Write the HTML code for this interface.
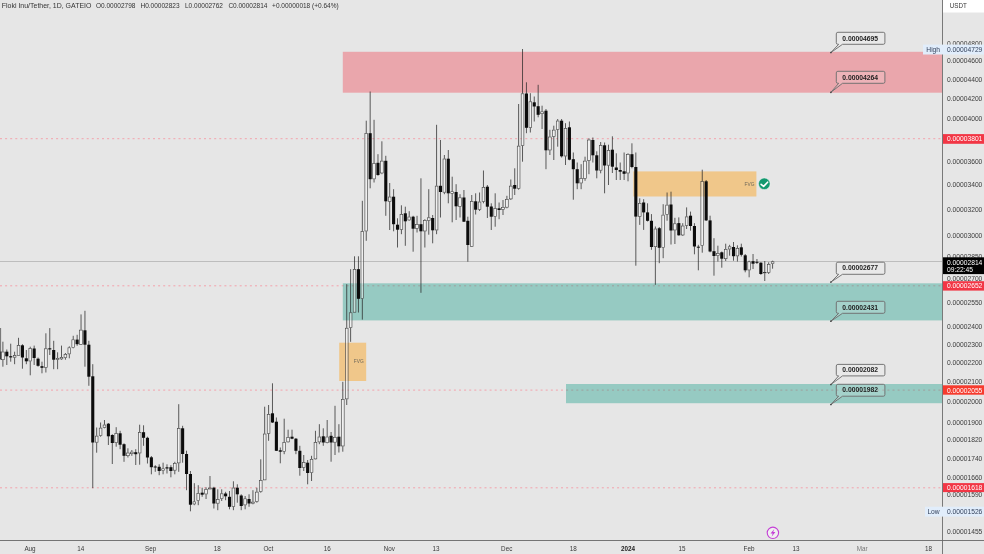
<!DOCTYPE html>
<html><head><meta charset="utf-8"><title>Floki Inu/Tether chart</title>
<style>html,body{margin:0;padding:0;background:#e6e6e6;overflow:hidden}svg{display:block;filter:blur(0.3px)}</style>
</head><body>
<svg width="984" height="554" viewBox="0 0 984 554" font-family='"Liberation Sans", sans-serif'>
<rect width="984" height="554" fill="#e6e6e6"/>
<line x1="0" x2="942" y1="138.7" y2="138.7" stroke="#f3a2ac" stroke-width="1" stroke-dasharray="2 3.1"/>
<line x1="0" x2="942" y1="285.8" y2="285.8" stroke="#f3a2ac" stroke-width="1" stroke-dasharray="2 3.1"/>
<line x1="0" x2="942" y1="390.1" y2="390.1" stroke="#f3a2ac" stroke-width="1" stroke-dasharray="2 3.1"/>
<line x1="0" x2="942" y1="487.8" y2="487.8" stroke="#f3a2ac" stroke-width="1" stroke-dasharray="2 3.1"/>
<line x1="0" x2="942" y1="261.5" y2="261.5" stroke="#b2b2b2" stroke-width="0.8"/>
<rect x="342.8" y="51.8" width="599.2" height="40.9" fill="rgba(242,54,69,0.36)"/>
<rect x="342.8" y="283.3" width="599.2" height="37.1" fill="rgba(8,153,129,0.36)"/>
<rect x="566" y="384" width="376.0" height="19.2" fill="rgba(8,153,129,0.36)"/>
<rect x="339.2" y="342.7" width="27" height="38.3" fill="rgba(255,152,0,0.40)"/>
<rect x="633.3" y="171.4" width="123.1" height="25.1" fill="rgba(255,152,0,0.40)"/>
<g id="candles">
<rect x="0" y="328" width="1.1" height="23.5" fill="#7a7a7a"/>
<rect x="0" y="351.3" width="1.2" height="8.2" fill="#3c3c3c"/>
<line x1="2.90" x2="2.90" y1="341.7" y2="351.7" stroke="#2a2a2a" stroke-width="0.75"/>
<line x1="2.90" x2="2.90" y1="360.0" y2="366.7" stroke="#2a2a2a" stroke-width="0.75"/>
<rect x="1.55" y="352.0" width="2.7" height="7.7" fill="rgba(255,255,255,0.42)" stroke="#3a3a3a" stroke-width="0.6"/>
<line x1="6.81" x2="6.81" y1="349.5" y2="365.0" stroke="#2a2a2a" stroke-width="0.75"/>
<rect x="5.26" y="351.7" width="3.1" height="4.6" fill="#0c0c0c"/>
<line x1="10.71" x2="10.71" y1="343.7" y2="361.7" stroke="#2a2a2a" stroke-width="0.75"/>
<rect x="9.16" y="356.2" width="3.1" height="1.2" fill="#0c0c0c"/>
<line x1="14.62" x2="14.62" y1="351.7" y2="355.3" stroke="#2a2a2a" stroke-width="0.75"/>
<line x1="14.62" x2="14.62" y1="357.5" y2="364.2" stroke="#2a2a2a" stroke-width="0.75"/>
<rect x="13.27" y="355.6" width="2.7" height="1.6" fill="rgba(255,255,255,0.42)" stroke="#3a3a3a" stroke-width="0.6"/>
<line x1="18.53" x2="18.53" y1="337.8" y2="345.3" stroke="#2a2a2a" stroke-width="0.75"/>
<rect x="17.18" y="345.6" width="2.7" height="9.9" fill="rgba(255,255,255,0.42)" stroke="#3a3a3a" stroke-width="0.6"/>
<line x1="22.43" x2="22.43" y1="344.2" y2="368.7" stroke="#2a2a2a" stroke-width="0.75"/>
<rect x="20.88" y="345.3" width="3.1" height="12.2" fill="#0c0c0c"/>
<line x1="26.34" x2="26.34" y1="350.0" y2="364.2" stroke="#2a2a2a" stroke-width="0.75"/>
<rect x="24.79" y="358.3" width="3.1" height="3.0" fill="#0c0c0c"/>
<line x1="30.25" x2="30.25" y1="346.7" y2="348.3" stroke="#2a2a2a" stroke-width="0.75"/>
<line x1="30.25" x2="30.25" y1="361.3" y2="375.3" stroke="#2a2a2a" stroke-width="0.75"/>
<rect x="28.90" y="348.6" width="2.7" height="12.4" fill="rgba(255,255,255,0.42)" stroke="#3a3a3a" stroke-width="0.6"/>
<line x1="34.16" x2="34.16" y1="345.6" y2="365.0" stroke="#2a2a2a" stroke-width="0.75"/>
<rect x="32.61" y="348.5" width="3.1" height="9.5" fill="#0c0c0c"/>
<line x1="38.06" x2="38.06" y1="357.5" y2="366.7" stroke="#2a2a2a" stroke-width="0.75"/>
<rect x="36.51" y="358.7" width="3.1" height="7.1" fill="#0c0c0c"/>
<line x1="41.97" x2="41.97" y1="361.7" y2="373.3" stroke="#2a2a2a" stroke-width="0.75"/>
<rect x="40.42" y="366.2" width="3.1" height="1.6" fill="#0c0c0c"/>
<line x1="45.88" x2="45.88" y1="333.3" y2="348.5" stroke="#2a2a2a" stroke-width="0.75"/>
<line x1="45.88" x2="45.88" y1="367.8" y2="372.5" stroke="#2a2a2a" stroke-width="0.75"/>
<rect x="44.53" y="348.8" width="2.7" height="18.7" fill="rgba(255,255,255,0.42)" stroke="#3a3a3a" stroke-width="0.6"/>
<line x1="49.78" x2="49.78" y1="328.1" y2="355.0" stroke="#2a2a2a" stroke-width="0.75"/>
<rect x="48.23" y="348.3" width="3.1" height="1.1" fill="#0c0c0c"/>
<line x1="53.69" x2="53.69" y1="340.8" y2="369.2" stroke="#2a2a2a" stroke-width="0.75"/>
<rect x="52.14" y="350.0" width="3.1" height="9.7" fill="#0c0c0c"/>
<line x1="57.60" x2="57.60" y1="352.3" y2="358.0" stroke="#2a2a2a" stroke-width="0.75"/>
<line x1="57.60" x2="57.60" y1="359.7" y2="369.2" stroke="#2a2a2a" stroke-width="0.75"/>
<rect x="56.25" y="358.3" width="2.7" height="1.1" fill="rgba(255,255,255,0.42)" stroke="#3a3a3a" stroke-width="0.6"/>
<line x1="61.51" x2="61.51" y1="345.6" y2="357.2" stroke="#2a2a2a" stroke-width="0.75"/>
<line x1="61.51" x2="61.51" y1="359.2" y2="359.9" stroke="#2a2a2a" stroke-width="0.75"/>
<rect x="60.16" y="357.5" width="2.7" height="1.4" fill="rgba(255,255,255,0.42)" stroke="#3a3a3a" stroke-width="0.6"/>
<line x1="65.41" x2="65.41" y1="353.0" y2="354.0" stroke="#2a2a2a" stroke-width="0.75"/>
<line x1="65.41" x2="65.41" y1="358.0" y2="359.7" stroke="#2a2a2a" stroke-width="0.75"/>
<rect x="64.06" y="354.3" width="2.7" height="3.4" fill="rgba(255,255,255,0.42)" stroke="#3a3a3a" stroke-width="0.6"/>
<line x1="69.32" x2="69.32" y1="346.3" y2="347.5" stroke="#2a2a2a" stroke-width="0.75"/>
<line x1="69.32" x2="69.32" y1="354.2" y2="358.3" stroke="#2a2a2a" stroke-width="0.75"/>
<rect x="67.97" y="347.8" width="2.7" height="6.1" fill="rgba(255,255,255,0.42)" stroke="#3a3a3a" stroke-width="0.6"/>
<line x1="73.23" x2="73.23" y1="335.8" y2="339.5" stroke="#2a2a2a" stroke-width="0.75"/>
<line x1="73.23" x2="73.23" y1="348.0" y2="348.3" stroke="#2a2a2a" stroke-width="0.75"/>
<rect x="71.88" y="339.8" width="2.7" height="7.9" fill="rgba(255,255,255,0.42)" stroke="#3a3a3a" stroke-width="0.6"/>
<line x1="77.13" x2="77.13" y1="334.8" y2="345.8" stroke="#2a2a2a" stroke-width="0.75"/>
<rect x="75.58" y="339.6" width="3.1" height="4.6" fill="#0c0c0c"/>
<line x1="81.04" x2="81.04" y1="314.4" y2="329.8" stroke="#2a2a2a" stroke-width="0.75"/>
<line x1="81.04" x2="81.04" y1="344.7" y2="345.0" stroke="#2a2a2a" stroke-width="0.75"/>
<rect x="79.69" y="330.1" width="2.7" height="14.3" fill="rgba(255,255,255,0.42)" stroke="#3a3a3a" stroke-width="0.6"/>
<line x1="84.95" x2="84.95" y1="310.8" y2="366.7" stroke="#2a2a2a" stroke-width="0.75"/>
<rect x="83.40" y="330.3" width="3.1" height="14.4" fill="#0c0c0c"/>
<line x1="88.85" x2="88.85" y1="340.8" y2="385.8" stroke="#2a2a2a" stroke-width="0.75"/>
<rect x="87.30" y="344.7" width="3.1" height="32.0" fill="#0c0c0c"/>
<line x1="92.76" x2="92.76" y1="364.2" y2="488.2" stroke="#2a2a2a" stroke-width="0.75"/>
<rect x="91.21" y="376.3" width="3.1" height="66.2" fill="#0c0c0c"/>
<line x1="96.67" x2="96.67" y1="427.5" y2="435.8" stroke="#2a2a2a" stroke-width="0.75"/>
<line x1="96.67" x2="96.67" y1="442.5" y2="452.7" stroke="#2a2a2a" stroke-width="0.75"/>
<rect x="95.32" y="436.1" width="2.7" height="6.1" fill="rgba(255,255,255,0.42)" stroke="#3a3a3a" stroke-width="0.6"/>
<line x1="100.58" x2="100.58" y1="422.5" y2="427.8" stroke="#2a2a2a" stroke-width="0.75"/>
<line x1="100.58" x2="100.58" y1="435.8" y2="436.7" stroke="#2a2a2a" stroke-width="0.75"/>
<rect x="99.23" y="428.1" width="2.7" height="7.4" fill="rgba(255,255,255,0.42)" stroke="#3a3a3a" stroke-width="0.6"/>
<line x1="104.48" x2="104.48" y1="420.0" y2="424.7" stroke="#2a2a2a" stroke-width="0.75"/>
<line x1="104.48" x2="104.48" y1="427.8" y2="428.3" stroke="#2a2a2a" stroke-width="0.75"/>
<rect x="103.13" y="425.0" width="2.7" height="2.5" fill="rgba(255,255,255,0.42)" stroke="#3a3a3a" stroke-width="0.6"/>
<line x1="108.39" x2="108.39" y1="423.0" y2="445.0" stroke="#2a2a2a" stroke-width="0.75"/>
<rect x="106.84" y="423.7" width="3.1" height="12.6" fill="#0c0c0c"/>
<line x1="112.30" x2="112.30" y1="434.2" y2="464.0" stroke="#2a2a2a" stroke-width="0.75"/>
<rect x="110.75" y="435.0" width="3.1" height="8.0" fill="#0c0c0c"/>
<line x1="116.20" x2="116.20" y1="427.2" y2="433.3" stroke="#2a2a2a" stroke-width="0.75"/>
<line x1="116.20" x2="116.20" y1="443.0" y2="446.7" stroke="#2a2a2a" stroke-width="0.75"/>
<rect x="114.85" y="433.6" width="2.7" height="9.1" fill="rgba(255,255,255,0.42)" stroke="#3a3a3a" stroke-width="0.6"/>
<line x1="120.11" x2="120.11" y1="430.8" y2="449.2" stroke="#2a2a2a" stroke-width="0.75"/>
<rect x="118.56" y="433.3" width="3.1" height="11.4" fill="#0c0c0c"/>
<line x1="124.02" x2="124.02" y1="443.3" y2="461.8" stroke="#2a2a2a" stroke-width="0.75"/>
<rect x="122.47" y="444.2" width="3.1" height="11.6" fill="#0c0c0c"/>
<line x1="127.92" x2="127.92" y1="448.3" y2="452.7" stroke="#2a2a2a" stroke-width="0.75"/>
<line x1="127.92" x2="127.92" y1="456.0" y2="457.5" stroke="#2a2a2a" stroke-width="0.75"/>
<rect x="126.57" y="453.0" width="2.7" height="2.7" fill="rgba(255,255,255,0.42)" stroke="#3a3a3a" stroke-width="0.6"/>
<line x1="131.83" x2="131.83" y1="450.0" y2="451.8" stroke="#2a2a2a" stroke-width="0.75"/>
<line x1="131.83" x2="131.83" y1="454.0" y2="455.8" stroke="#2a2a2a" stroke-width="0.75"/>
<rect x="130.48" y="452.1" width="2.7" height="1.6" fill="rgba(255,255,255,0.42)" stroke="#3a3a3a" stroke-width="0.6"/>
<line x1="135.74" x2="135.74" y1="449.2" y2="465.0" stroke="#2a2a2a" stroke-width="0.75"/>
<rect x="134.19" y="452.2" width="3.1" height="2.0" fill="#0c0c0c"/>
<line x1="139.65" x2="139.65" y1="424.7" y2="432.2" stroke="#2a2a2a" stroke-width="0.75"/>
<line x1="139.65" x2="139.65" y1="453.3" y2="464.7" stroke="#2a2a2a" stroke-width="0.75"/>
<rect x="138.30" y="432.5" width="2.7" height="20.5" fill="rgba(255,255,255,0.42)" stroke="#3a3a3a" stroke-width="0.6"/>
<line x1="143.55" x2="143.55" y1="425.3" y2="445.8" stroke="#2a2a2a" stroke-width="0.75"/>
<rect x="142.00" y="432.2" width="3.1" height="5.6" fill="#0c0c0c"/>
<line x1="147.46" x2="147.46" y1="436.7" y2="463.5" stroke="#2a2a2a" stroke-width="0.75"/>
<rect x="145.91" y="437.8" width="3.1" height="19.7" fill="#0c0c0c"/>
<line x1="151.37" x2="151.37" y1="456.0" y2="474.3" stroke="#2a2a2a" stroke-width="0.75"/>
<rect x="149.82" y="457.3" width="3.1" height="9.9" fill="#0c0c0c"/>
<line x1="155.27" x2="155.27" y1="465.2" y2="471.8" stroke="#2a2a2a" stroke-width="0.75"/>
<rect x="153.72" y="466.5" width="3.1" height="1.0" fill="#0c0c0c"/>
<line x1="159.18" x2="159.18" y1="464.3" y2="475.2" stroke="#2a2a2a" stroke-width="0.75"/>
<rect x="157.63" y="466.8" width="3.1" height="4.2" fill="#0c0c0c"/>
<line x1="163.09" x2="163.09" y1="462.7" y2="468.5" stroke="#2a2a2a" stroke-width="0.75"/>
<line x1="163.09" x2="163.09" y1="471.0" y2="474.3" stroke="#2a2a2a" stroke-width="0.75"/>
<rect x="161.74" y="468.8" width="2.7" height="1.9" fill="rgba(255,255,255,0.42)" stroke="#3a3a3a" stroke-width="0.6"/>
<line x1="166.99" x2="166.99" y1="464.3" y2="473.5" stroke="#2a2a2a" stroke-width="0.75"/>
<rect x="165.44" y="467.3" width="3.1" height="1.2" fill="#0c0c0c"/>
<line x1="170.90" x2="170.90" y1="465.2" y2="477.3" stroke="#2a2a2a" stroke-width="0.75"/>
<rect x="169.35" y="467.2" width="3.1" height="3.8" fill="#0c0c0c"/>
<line x1="174.81" x2="174.81" y1="461.8" y2="463.2" stroke="#2a2a2a" stroke-width="0.75"/>
<line x1="174.81" x2="174.81" y1="470.5" y2="474.3" stroke="#2a2a2a" stroke-width="0.75"/>
<rect x="173.46" y="463.5" width="2.7" height="6.7" fill="rgba(255,255,255,0.42)" stroke="#3a3a3a" stroke-width="0.6"/>
<line x1="178.72" x2="178.72" y1="404.2" y2="428.3" stroke="#2a2a2a" stroke-width="0.75"/>
<line x1="178.72" x2="178.72" y1="463.2" y2="471.8" stroke="#2a2a2a" stroke-width="0.75"/>
<rect x="177.37" y="428.6" width="2.7" height="34.3" fill="rgba(255,255,255,0.42)" stroke="#3a3a3a" stroke-width="0.6"/>
<line x1="182.62" x2="182.62" y1="425.8" y2="462.7" stroke="#2a2a2a" stroke-width="0.75"/>
<rect x="181.07" y="428.3" width="3.1" height="25.7" fill="#0c0c0c"/>
<line x1="186.53" x2="186.53" y1="450.7" y2="490.2" stroke="#2a2a2a" stroke-width="0.75"/>
<rect x="184.98" y="454.0" width="3.1" height="20.0" fill="#0c0c0c"/>
<line x1="190.44" x2="190.44" y1="471.0" y2="511.3" stroke="#2a2a2a" stroke-width="0.75"/>
<rect x="188.89" y="474.0" width="3.1" height="30.7" fill="#0c0c0c"/>
<line x1="194.34" x2="194.34" y1="483.2" y2="501.5" stroke="#2a2a2a" stroke-width="0.75"/>
<line x1="194.34" x2="194.34" y1="504.3" y2="505.2" stroke="#2a2a2a" stroke-width="0.75"/>
<rect x="192.99" y="501.8" width="2.7" height="2.2" fill="rgba(255,255,255,0.42)" stroke="#3a3a3a" stroke-width="0.6"/>
<line x1="198.25" x2="198.25" y1="485.2" y2="493.0" stroke="#2a2a2a" stroke-width="0.75"/>
<line x1="198.25" x2="198.25" y1="501.0" y2="505.2" stroke="#2a2a2a" stroke-width="0.75"/>
<rect x="196.90" y="493.3" width="2.7" height="7.4" fill="rgba(255,255,255,0.42)" stroke="#3a3a3a" stroke-width="0.6"/>
<line x1="202.16" x2="202.16" y1="487.7" y2="496.8" stroke="#2a2a2a" stroke-width="0.75"/>
<rect x="200.61" y="492.7" width="3.1" height="2.0" fill="#0c0c0c"/>
<line x1="206.06" x2="206.06" y1="487.3" y2="489.0" stroke="#2a2a2a" stroke-width="0.75"/>
<line x1="206.06" x2="206.06" y1="494.3" y2="499.0" stroke="#2a2a2a" stroke-width="0.75"/>
<rect x="204.71" y="489.3" width="2.7" height="4.7" fill="rgba(255,255,255,0.42)" stroke="#3a3a3a" stroke-width="0.6"/>
<line x1="209.97" x2="209.97" y1="476.0" y2="487.7" stroke="#2a2a2a" stroke-width="0.75"/>
<rect x="208.62" y="488.0" width="2.7" height="1.0" fill="rgba(255,255,255,0.42)" stroke="#3a3a3a" stroke-width="0.6"/>
<line x1="213.88" x2="213.88" y1="486.8" y2="508.5" stroke="#2a2a2a" stroke-width="0.75"/>
<rect x="212.33" y="487.7" width="3.1" height="15.8" fill="#0c0c0c"/>
<line x1="217.78" x2="217.78" y1="489.3" y2="499.3" stroke="#2a2a2a" stroke-width="0.75"/>
<line x1="217.78" x2="217.78" y1="503.5" y2="510.2" stroke="#2a2a2a" stroke-width="0.75"/>
<rect x="216.44" y="499.6" width="2.7" height="3.6" fill="rgba(255,255,255,0.42)" stroke="#3a3a3a" stroke-width="0.6"/>
<line x1="221.69" x2="221.69" y1="489.3" y2="493.5" stroke="#2a2a2a" stroke-width="0.75"/>
<line x1="221.69" x2="221.69" y1="499.0" y2="501.0" stroke="#2a2a2a" stroke-width="0.75"/>
<rect x="220.34" y="493.8" width="2.7" height="4.9" fill="rgba(255,255,255,0.42)" stroke="#3a3a3a" stroke-width="0.6"/>
<line x1="225.60" x2="225.60" y1="491.8" y2="500.2" stroke="#2a2a2a" stroke-width="0.75"/>
<rect x="224.05" y="493.5" width="3.1" height="2.8" fill="#0c0c0c"/>
<line x1="229.51" x2="229.51" y1="491.0" y2="509.3" stroke="#2a2a2a" stroke-width="0.75"/>
<rect x="227.96" y="496.8" width="3.1" height="10.0" fill="#0c0c0c"/>
<line x1="233.41" x2="233.41" y1="481.3" y2="487.7" stroke="#2a2a2a" stroke-width="0.75"/>
<line x1="233.41" x2="233.41" y1="506.8" y2="510.2" stroke="#2a2a2a" stroke-width="0.75"/>
<rect x="232.06" y="488.0" width="2.7" height="18.5" fill="rgba(255,255,255,0.42)" stroke="#3a3a3a" stroke-width="0.6"/>
<line x1="237.32" x2="237.32" y1="484.3" y2="502.7" stroke="#2a2a2a" stroke-width="0.75"/>
<rect x="235.77" y="487.7" width="3.1" height="6.6" fill="#0c0c0c"/>
<line x1="241.23" x2="241.23" y1="494.3" y2="510.2" stroke="#2a2a2a" stroke-width="0.75"/>
<rect x="239.68" y="495.5" width="3.1" height="10.5" fill="#0c0c0c"/>
<line x1="245.13" x2="245.13" y1="496.0" y2="498.5" stroke="#2a2a2a" stroke-width="0.75"/>
<line x1="245.13" x2="245.13" y1="505.2" y2="509.3" stroke="#2a2a2a" stroke-width="0.75"/>
<rect x="243.78" y="498.8" width="2.7" height="6.1" fill="rgba(255,255,255,0.42)" stroke="#3a3a3a" stroke-width="0.6"/>
<line x1="249.04" x2="249.04" y1="494.3" y2="506.8" stroke="#2a2a2a" stroke-width="0.75"/>
<rect x="247.49" y="499.0" width="3.1" height="4.5" fill="#0c0c0c"/>
<line x1="252.95" x2="252.95" y1="490.2" y2="501.8" stroke="#2a2a2a" stroke-width="0.75"/>
<line x1="252.95" x2="252.95" y1="503.5" y2="504.3" stroke="#2a2a2a" stroke-width="0.75"/>
<rect x="251.60" y="502.1" width="2.7" height="1.1" fill="rgba(255,255,255,0.42)" stroke="#3a3a3a" stroke-width="0.6"/>
<line x1="256.86" x2="256.86" y1="487.7" y2="491.8" stroke="#2a2a2a" stroke-width="0.75"/>
<line x1="256.86" x2="256.86" y1="501.8" y2="502.7" stroke="#2a2a2a" stroke-width="0.75"/>
<rect x="255.51" y="492.1" width="2.7" height="9.4" fill="rgba(255,255,255,0.42)" stroke="#3a3a3a" stroke-width="0.6"/>
<line x1="260.76" x2="260.76" y1="459.3" y2="480.2" stroke="#2a2a2a" stroke-width="0.75"/>
<line x1="260.76" x2="260.76" y1="491.8" y2="492.7" stroke="#2a2a2a" stroke-width="0.75"/>
<rect x="259.41" y="480.5" width="2.7" height="11.0" fill="rgba(255,255,255,0.42)" stroke="#3a3a3a" stroke-width="0.6"/>
<line x1="264.67" x2="264.67" y1="406.7" y2="433.7" stroke="#2a2a2a" stroke-width="0.75"/>
<rect x="263.32" y="434.0" width="2.7" height="45.9" fill="rgba(255,255,255,0.42)" stroke="#3a3a3a" stroke-width="0.6"/>
<line x1="268.58" x2="268.58" y1="405.0" y2="414.2" stroke="#2a2a2a" stroke-width="0.75"/>
<line x1="268.58" x2="268.58" y1="433.7" y2="440.8" stroke="#2a2a2a" stroke-width="0.75"/>
<rect x="267.23" y="414.5" width="2.7" height="18.9" fill="rgba(255,255,255,0.42)" stroke="#3a3a3a" stroke-width="0.6"/>
<line x1="272.48" x2="272.48" y1="383.3" y2="423.0" stroke="#2a2a2a" stroke-width="0.75"/>
<rect x="270.93" y="413.3" width="3.1" height="9.2" fill="#0c0c0c"/>
<line x1="276.39" x2="276.39" y1="417.5" y2="451.0" stroke="#2a2a2a" stroke-width="0.75"/>
<rect x="274.84" y="421.7" width="3.1" height="29.1" fill="#0c0c0c"/>
<line x1="280.30" x2="280.30" y1="447.5" y2="463.3" stroke="#2a2a2a" stroke-width="0.75"/>
<rect x="278.75" y="450.3" width="3.1" height="1.4" fill="#0c0c0c"/>
<line x1="284.20" x2="284.20" y1="418.7" y2="442.2" stroke="#2a2a2a" stroke-width="0.75"/>
<line x1="284.20" x2="284.20" y1="451.7" y2="454.2" stroke="#2a2a2a" stroke-width="0.75"/>
<rect x="282.85" y="442.5" width="2.7" height="8.9" fill="rgba(255,255,255,0.42)" stroke="#3a3a3a" stroke-width="0.6"/>
<line x1="288.11" x2="288.11" y1="429.7" y2="437.2" stroke="#2a2a2a" stroke-width="0.75"/>
<line x1="288.11" x2="288.11" y1="442.2" y2="442.5" stroke="#2a2a2a" stroke-width="0.75"/>
<rect x="286.76" y="437.5" width="2.7" height="4.4" fill="rgba(255,255,255,0.42)" stroke="#3a3a3a" stroke-width="0.6"/>
<line x1="292.02" x2="292.02" y1="429.7" y2="439.2" stroke="#2a2a2a" stroke-width="0.75"/>
<rect x="290.47" y="436.7" width="3.1" height="2.0" fill="#0c0c0c"/>
<line x1="295.92" x2="295.92" y1="438.0" y2="454.2" stroke="#2a2a2a" stroke-width="0.75"/>
<rect x="294.37" y="438.7" width="3.1" height="12.1" fill="#0c0c0c"/>
<line x1="299.83" x2="299.83" y1="445.8" y2="475.7" stroke="#2a2a2a" stroke-width="0.75"/>
<rect x="298.28" y="450.8" width="3.1" height="17.2" fill="#0c0c0c"/>
<line x1="303.74" x2="303.74" y1="455.0" y2="462.3" stroke="#2a2a2a" stroke-width="0.75"/>
<line x1="303.74" x2="303.74" y1="467.7" y2="471.0" stroke="#2a2a2a" stroke-width="0.75"/>
<rect x="302.39" y="462.6" width="2.7" height="4.8" fill="rgba(255,255,255,0.42)" stroke="#3a3a3a" stroke-width="0.6"/>
<line x1="307.65" x2="307.65" y1="460.0" y2="484.3" stroke="#2a2a2a" stroke-width="0.75"/>
<rect x="306.10" y="462.7" width="3.1" height="10.3" fill="#0c0c0c"/>
<line x1="311.55" x2="311.55" y1="455.8" y2="459.0" stroke="#2a2a2a" stroke-width="0.75"/>
<line x1="311.55" x2="311.55" y1="473.0" y2="481.0" stroke="#2a2a2a" stroke-width="0.75"/>
<rect x="310.20" y="459.3" width="2.7" height="13.4" fill="rgba(255,255,255,0.42)" stroke="#3a3a3a" stroke-width="0.6"/>
<line x1="315.46" x2="315.46" y1="430.8" y2="442.2" stroke="#2a2a2a" stroke-width="0.75"/>
<line x1="315.46" x2="315.46" y1="459.2" y2="459.5" stroke="#2a2a2a" stroke-width="0.75"/>
<rect x="314.11" y="442.5" width="2.7" height="16.4" fill="rgba(255,255,255,0.42)" stroke="#3a3a3a" stroke-width="0.6"/>
<line x1="319.37" x2="319.37" y1="424.2" y2="436.7" stroke="#2a2a2a" stroke-width="0.75"/>
<line x1="319.37" x2="319.37" y1="442.2" y2="444.2" stroke="#2a2a2a" stroke-width="0.75"/>
<rect x="318.02" y="437.0" width="2.7" height="4.9" fill="rgba(255,255,255,0.42)" stroke="#3a3a3a" stroke-width="0.6"/>
<line x1="323.27" x2="323.27" y1="428.3" y2="445.8" stroke="#2a2a2a" stroke-width="0.75"/>
<rect x="321.72" y="436.3" width="3.1" height="6.2" fill="#0c0c0c"/>
<line x1="327.18" x2="327.18" y1="420.0" y2="436.7" stroke="#2a2a2a" stroke-width="0.75"/>
<line x1="327.18" x2="327.18" y1="443.0" y2="443.3" stroke="#2a2a2a" stroke-width="0.75"/>
<rect x="325.83" y="437.0" width="2.7" height="5.7" fill="rgba(255,255,255,0.42)" stroke="#3a3a3a" stroke-width="0.6"/>
<line x1="331.09" x2="331.09" y1="432.0" y2="461.7" stroke="#2a2a2a" stroke-width="0.75"/>
<rect x="329.54" y="435.8" width="3.1" height="6.7" fill="#0c0c0c"/>
<line x1="335.00" x2="335.00" y1="405.8" y2="437.0" stroke="#2a2a2a" stroke-width="0.75"/>
<line x1="335.00" x2="335.00" y1="442.5" y2="455.0" stroke="#2a2a2a" stroke-width="0.75"/>
<rect x="333.64" y="437.3" width="2.7" height="4.9" fill="rgba(255,255,255,0.42)" stroke="#3a3a3a" stroke-width="0.6"/>
<line x1="338.90" x2="338.90" y1="424.2" y2="452.5" stroke="#2a2a2a" stroke-width="0.75"/>
<rect x="337.35" y="436.7" width="3.1" height="9.6" fill="#0c0c0c"/>
<line x1="342.81" x2="342.81" y1="381.8" y2="399.2" stroke="#2a2a2a" stroke-width="0.75"/>
<line x1="342.81" x2="342.81" y1="446.3" y2="451.7" stroke="#2a2a2a" stroke-width="0.75"/>
<rect x="341.46" y="399.5" width="2.7" height="46.5" fill="rgba(255,255,255,0.42)" stroke="#3a3a3a" stroke-width="0.6"/>
<line x1="346.72" x2="346.72" y1="284.2" y2="327.9" stroke="#2a2a2a" stroke-width="0.75"/>
<line x1="346.72" x2="346.72" y1="399.2" y2="405.0" stroke="#2a2a2a" stroke-width="0.75"/>
<rect x="345.37" y="328.2" width="2.7" height="70.7" fill="rgba(255,255,255,0.42)" stroke="#3a3a3a" stroke-width="0.6"/>
<line x1="350.62" x2="350.62" y1="269.2" y2="312.5" stroke="#2a2a2a" stroke-width="0.75"/>
<line x1="350.62" x2="350.62" y1="327.9" y2="341.8" stroke="#2a2a2a" stroke-width="0.75"/>
<rect x="349.27" y="312.8" width="2.7" height="14.8" fill="rgba(255,255,255,0.42)" stroke="#3a3a3a" stroke-width="0.6"/>
<line x1="354.53" x2="354.53" y1="256.3" y2="269.2" stroke="#2a2a2a" stroke-width="0.75"/>
<rect x="353.18" y="269.5" width="2.7" height="42.7" fill="rgba(255,255,255,0.42)" stroke="#3a3a3a" stroke-width="0.6"/>
<line x1="358.44" x2="358.44" y1="256.3" y2="312.5" stroke="#2a2a2a" stroke-width="0.75"/>
<rect x="356.89" y="269.2" width="3.1" height="29.6" fill="#0c0c0c"/>
<line x1="362.34" x2="362.34" y1="200.8" y2="231.3" stroke="#2a2a2a" stroke-width="0.75"/>
<line x1="362.34" x2="362.34" y1="298.8" y2="319.6" stroke="#2a2a2a" stroke-width="0.75"/>
<rect x="360.99" y="231.6" width="2.7" height="66.8" fill="rgba(255,255,255,0.42)" stroke="#3a3a3a" stroke-width="0.6"/>
<line x1="366.25" x2="366.25" y1="120.7" y2="133.2" stroke="#2a2a2a" stroke-width="0.75"/>
<line x1="366.25" x2="366.25" y1="231.3" y2="240.8" stroke="#2a2a2a" stroke-width="0.75"/>
<rect x="364.90" y="133.5" width="2.7" height="97.5" fill="rgba(255,255,255,0.42)" stroke="#3a3a3a" stroke-width="0.6"/>
<line x1="370.16" x2="370.16" y1="91.5" y2="188.3" stroke="#2a2a2a" stroke-width="0.75"/>
<rect x="368.61" y="133.2" width="3.1" height="46.0" fill="#0c0c0c"/>
<line x1="374.06" x2="374.06" y1="119.8" y2="163.3" stroke="#2a2a2a" stroke-width="0.75"/>
<line x1="374.06" x2="374.06" y1="179.2" y2="182.5" stroke="#2a2a2a" stroke-width="0.75"/>
<rect x="372.71" y="163.6" width="2.7" height="15.3" fill="rgba(255,255,255,0.42)" stroke="#3a3a3a" stroke-width="0.6"/>
<line x1="377.97" x2="377.97" y1="154.2" y2="175.8" stroke="#2a2a2a" stroke-width="0.75"/>
<rect x="376.42" y="162.8" width="3.1" height="12.2" fill="#0c0c0c"/>
<line x1="381.88" x2="381.88" y1="141.3" y2="160.8" stroke="#2a2a2a" stroke-width="0.75"/>
<line x1="381.88" x2="381.88" y1="173.3" y2="174.2" stroke="#2a2a2a" stroke-width="0.75"/>
<rect x="380.53" y="161.1" width="2.7" height="11.9" fill="rgba(255,255,255,0.42)" stroke="#3a3a3a" stroke-width="0.6"/>
<line x1="385.79" x2="385.79" y1="155.8" y2="215.8" stroke="#2a2a2a" stroke-width="0.75"/>
<rect x="384.24" y="160.8" width="3.1" height="40.5" fill="#0c0c0c"/>
<line x1="389.69" x2="389.69" y1="183.0" y2="196.7" stroke="#2a2a2a" stroke-width="0.75"/>
<line x1="389.69" x2="389.69" y1="201.7" y2="230.0" stroke="#2a2a2a" stroke-width="0.75"/>
<rect x="388.34" y="197.0" width="2.7" height="4.4" fill="rgba(255,255,255,0.42)" stroke="#3a3a3a" stroke-width="0.6"/>
<line x1="393.60" x2="393.60" y1="189.2" y2="231.3" stroke="#2a2a2a" stroke-width="0.75"/>
<rect x="392.05" y="196.7" width="3.1" height="27.5" fill="#0c0c0c"/>
<line x1="397.51" x2="397.51" y1="218.3" y2="247.5" stroke="#2a2a2a" stroke-width="0.75"/>
<rect x="395.96" y="224.7" width="3.1" height="5.0" fill="#0c0c0c"/>
<line x1="401.41" x2="401.41" y1="205.3" y2="214.2" stroke="#2a2a2a" stroke-width="0.75"/>
<line x1="401.41" x2="401.41" y1="229.7" y2="234.2" stroke="#2a2a2a" stroke-width="0.75"/>
<rect x="400.06" y="214.5" width="2.7" height="14.9" fill="rgba(255,255,255,0.42)" stroke="#3a3a3a" stroke-width="0.6"/>
<line x1="405.32" x2="405.32" y1="206.7" y2="245.8" stroke="#2a2a2a" stroke-width="0.75"/>
<rect x="403.77" y="213.3" width="3.1" height="8.0" fill="#0c0c0c"/>
<line x1="409.23" x2="409.23" y1="211.2" y2="216.7" stroke="#2a2a2a" stroke-width="0.75"/>
<line x1="409.23" x2="409.23" y1="220.3" y2="220.8" stroke="#2a2a2a" stroke-width="0.75"/>
<rect x="407.88" y="217.0" width="2.7" height="3.0" fill="rgba(255,255,255,0.42)" stroke="#3a3a3a" stroke-width="0.6"/>
<line x1="413.13" x2="413.13" y1="215.8" y2="251.7" stroke="#2a2a2a" stroke-width="0.75"/>
<rect x="411.58" y="216.7" width="3.1" height="12.0" fill="#0c0c0c"/>
<line x1="417.04" x2="417.04" y1="215.8" y2="224.2" stroke="#2a2a2a" stroke-width="0.75"/>
<line x1="417.04" x2="417.04" y1="228.7" y2="232.5" stroke="#2a2a2a" stroke-width="0.75"/>
<rect x="415.69" y="224.5" width="2.7" height="3.9" fill="rgba(255,255,255,0.42)" stroke="#3a3a3a" stroke-width="0.6"/>
<line x1="420.95" x2="420.95" y1="178.3" y2="292.8" stroke="#2a2a2a" stroke-width="0.75"/>
<rect x="419.40" y="224.2" width="3.1" height="7.1" fill="#0c0c0c"/>
<line x1="424.86" x2="424.86" y1="219.2" y2="220.3" stroke="#2a2a2a" stroke-width="0.75"/>
<line x1="424.86" x2="424.86" y1="231.3" y2="247.5" stroke="#2a2a2a" stroke-width="0.75"/>
<rect x="423.51" y="220.6" width="2.7" height="10.4" fill="rgba(255,255,255,0.42)" stroke="#3a3a3a" stroke-width="0.6"/>
<line x1="428.76" x2="428.76" y1="189.2" y2="217.5" stroke="#2a2a2a" stroke-width="0.75"/>
<line x1="428.76" x2="428.76" y1="220.8" y2="234.7" stroke="#2a2a2a" stroke-width="0.75"/>
<rect x="427.41" y="217.8" width="2.7" height="2.7" fill="rgba(255,255,255,0.42)" stroke="#3a3a3a" stroke-width="0.6"/>
<line x1="432.67" x2="432.67" y1="215.0" y2="243.3" stroke="#2a2a2a" stroke-width="0.75"/>
<rect x="431.12" y="218.0" width="3.1" height="12.3" fill="#0c0c0c"/>
<line x1="436.58" x2="436.58" y1="124.8" y2="185.8" stroke="#2a2a2a" stroke-width="0.75"/>
<line x1="436.58" x2="436.58" y1="230.3" y2="234.2" stroke="#2a2a2a" stroke-width="0.75"/>
<rect x="435.23" y="186.1" width="2.7" height="43.9" fill="rgba(255,255,255,0.42)" stroke="#3a3a3a" stroke-width="0.6"/>
<line x1="440.48" x2="440.48" y1="140.0" y2="217.5" stroke="#2a2a2a" stroke-width="0.75"/>
<rect x="438.93" y="185.8" width="3.1" height="6.2" fill="#0c0c0c"/>
<line x1="444.39" x2="444.39" y1="155.0" y2="158.7" stroke="#2a2a2a" stroke-width="0.75"/>
<line x1="444.39" x2="444.39" y1="192.5" y2="194.2" stroke="#2a2a2a" stroke-width="0.75"/>
<rect x="443.04" y="159.0" width="2.7" height="33.2" fill="rgba(255,255,255,0.42)" stroke="#3a3a3a" stroke-width="0.6"/>
<line x1="448.30" x2="448.30" y1="150.0" y2="203.3" stroke="#2a2a2a" stroke-width="0.75"/>
<rect x="446.75" y="158.7" width="3.1" height="34.6" fill="#0c0c0c"/>
<line x1="452.20" x2="452.20" y1="176.7" y2="191.4" stroke="#2a2a2a" stroke-width="0.75"/>
<line x1="452.20" x2="452.20" y1="193.6" y2="222.3" stroke="#2a2a2a" stroke-width="0.75"/>
<rect x="450.85" y="191.7" width="2.7" height="1.6" fill="rgba(255,255,255,0.42)" stroke="#3a3a3a" stroke-width="0.6"/>
<line x1="456.11" x2="456.11" y1="184.2" y2="220.0" stroke="#2a2a2a" stroke-width="0.75"/>
<rect x="454.56" y="192.0" width="3.1" height="14.3" fill="#0c0c0c"/>
<line x1="460.02" x2="460.02" y1="194.2" y2="197.5" stroke="#2a2a2a" stroke-width="0.75"/>
<line x1="460.02" x2="460.02" y1="206.7" y2="217.5" stroke="#2a2a2a" stroke-width="0.75"/>
<rect x="458.67" y="197.8" width="2.7" height="8.6" fill="rgba(255,255,255,0.42)" stroke="#3a3a3a" stroke-width="0.6"/>
<line x1="463.93" x2="463.93" y1="190.0" y2="222.0" stroke="#2a2a2a" stroke-width="0.75"/>
<rect x="462.38" y="197.5" width="3.1" height="24.2" fill="#0c0c0c"/>
<line x1="467.83" x2="467.83" y1="216.7" y2="261.7" stroke="#2a2a2a" stroke-width="0.75"/>
<rect x="466.28" y="220.8" width="3.1" height="24.2" fill="#0c0c0c"/>
<line x1="471.74" x2="471.74" y1="195.0" y2="201.3" stroke="#2a2a2a" stroke-width="0.75"/>
<line x1="471.74" x2="471.74" y1="246.7" y2="247.0" stroke="#2a2a2a" stroke-width="0.75"/>
<rect x="470.39" y="201.6" width="2.7" height="44.8" fill="rgba(255,255,255,0.42)" stroke="#3a3a3a" stroke-width="0.6"/>
<line x1="475.65" x2="475.65" y1="193.3" y2="214.5" stroke="#2a2a2a" stroke-width="0.75"/>
<rect x="474.10" y="201.3" width="3.1" height="8.4" fill="#0c0c0c"/>
<line x1="479.55" x2="479.55" y1="192.5" y2="201.7" stroke="#2a2a2a" stroke-width="0.75"/>
<line x1="479.55" x2="479.55" y1="209.7" y2="211.0" stroke="#2a2a2a" stroke-width="0.75"/>
<rect x="478.20" y="202.0" width="2.7" height="7.4" fill="rgba(255,255,255,0.42)" stroke="#3a3a3a" stroke-width="0.6"/>
<line x1="483.46" x2="483.46" y1="170.5" y2="187.0" stroke="#2a2a2a" stroke-width="0.75"/>
<line x1="483.46" x2="483.46" y1="201.7" y2="203.3" stroke="#2a2a2a" stroke-width="0.75"/>
<rect x="482.11" y="187.3" width="2.7" height="14.1" fill="rgba(255,255,255,0.42)" stroke="#3a3a3a" stroke-width="0.6"/>
<line x1="487.37" x2="487.37" y1="185.0" y2="218.0" stroke="#2a2a2a" stroke-width="0.75"/>
<rect x="485.82" y="186.7" width="3.1" height="20.0" fill="#0c0c0c"/>
<line x1="491.27" x2="491.27" y1="203.3" y2="230.0" stroke="#2a2a2a" stroke-width="0.75"/>
<rect x="489.72" y="206.5" width="3.1" height="10.2" fill="#0c0c0c"/>
<line x1="495.18" x2="495.18" y1="193.3" y2="208.3" stroke="#2a2a2a" stroke-width="0.75"/>
<line x1="495.18" x2="495.18" y1="216.7" y2="226.7" stroke="#2a2a2a" stroke-width="0.75"/>
<rect x="493.83" y="208.6" width="2.7" height="7.8" fill="rgba(255,255,255,0.42)" stroke="#3a3a3a" stroke-width="0.6"/>
<line x1="499.09" x2="499.09" y1="202.5" y2="219.2" stroke="#2a2a2a" stroke-width="0.75"/>
<rect x="497.54" y="208.3" width="3.1" height="1.7" fill="#0c0c0c"/>
<line x1="503.00" x2="503.00" y1="200.0" y2="207.0" stroke="#2a2a2a" stroke-width="0.75"/>
<line x1="503.00" x2="503.00" y1="209.7" y2="215.0" stroke="#2a2a2a" stroke-width="0.75"/>
<rect x="501.65" y="207.3" width="2.7" height="2.1" fill="rgba(255,255,255,0.42)" stroke="#3a3a3a" stroke-width="0.6"/>
<line x1="506.90" x2="506.90" y1="195.8" y2="199.2" stroke="#2a2a2a" stroke-width="0.75"/>
<line x1="506.90" x2="506.90" y1="207.5" y2="208.3" stroke="#2a2a2a" stroke-width="0.75"/>
<rect x="505.55" y="199.5" width="2.7" height="7.7" fill="rgba(255,255,255,0.42)" stroke="#3a3a3a" stroke-width="0.6"/>
<line x1="510.81" x2="510.81" y1="179.5" y2="185.8" stroke="#2a2a2a" stroke-width="0.75"/>
<line x1="510.81" x2="510.81" y1="199.2" y2="200.0" stroke="#2a2a2a" stroke-width="0.75"/>
<rect x="509.46" y="186.1" width="2.7" height="12.8" fill="rgba(255,255,255,0.42)" stroke="#3a3a3a" stroke-width="0.6"/>
<line x1="514.72" x2="514.72" y1="168.3" y2="195.0" stroke="#2a2a2a" stroke-width="0.75"/>
<rect x="513.17" y="185.0" width="3.1" height="3.7" fill="#0c0c0c"/>
<line x1="518.62" x2="518.62" y1="104.0" y2="145.8" stroke="#2a2a2a" stroke-width="0.75"/>
<line x1="518.62" x2="518.62" y1="188.7" y2="189.7" stroke="#2a2a2a" stroke-width="0.75"/>
<rect x="517.27" y="146.1" width="2.7" height="42.3" fill="rgba(255,255,255,0.42)" stroke="#3a3a3a" stroke-width="0.6"/>
<line x1="522.53" x2="522.53" y1="49.0" y2="93.5" stroke="#2a2a2a" stroke-width="0.75"/>
<line x1="522.53" x2="522.53" y1="145.8" y2="161.7" stroke="#2a2a2a" stroke-width="0.75"/>
<rect x="521.18" y="93.8" width="2.7" height="51.7" fill="rgba(255,255,255,0.42)" stroke="#3a3a3a" stroke-width="0.6"/>
<line x1="526.44" x2="526.44" y1="82.3" y2="133.2" stroke="#2a2a2a" stroke-width="0.75"/>
<rect x="524.89" y="93.5" width="3.1" height="34.3" fill="#0c0c0c"/>
<line x1="530.35" x2="530.35" y1="93.2" y2="101.5" stroke="#2a2a2a" stroke-width="0.75"/>
<line x1="530.35" x2="530.35" y1="127.8" y2="132.5" stroke="#2a2a2a" stroke-width="0.75"/>
<rect x="529.00" y="101.8" width="2.7" height="25.7" fill="rgba(255,255,255,0.42)" stroke="#3a3a3a" stroke-width="0.6"/>
<line x1="534.25" x2="534.25" y1="96.5" y2="121.5" stroke="#2a2a2a" stroke-width="0.75"/>
<rect x="532.70" y="102.3" width="3.1" height="4.2" fill="#0c0c0c"/>
<line x1="538.16" x2="538.16" y1="84.8" y2="117.3" stroke="#2a2a2a" stroke-width="0.75"/>
<rect x="536.61" y="106.2" width="3.1" height="8.6" fill="#0c0c0c"/>
<line x1="542.07" x2="542.07" y1="105.7" y2="111.5" stroke="#2a2a2a" stroke-width="0.75"/>
<line x1="542.07" x2="542.07" y1="114.0" y2="129.0" stroke="#2a2a2a" stroke-width="0.75"/>
<rect x="540.72" y="111.8" width="2.7" height="1.9" fill="rgba(255,255,255,0.42)" stroke="#3a3a3a" stroke-width="0.6"/>
<line x1="545.97" x2="545.97" y1="109.0" y2="169.2" stroke="#2a2a2a" stroke-width="0.75"/>
<rect x="544.42" y="110.7" width="3.1" height="39.6" fill="#0c0c0c"/>
<line x1="549.88" x2="549.88" y1="129.8" y2="136.7" stroke="#2a2a2a" stroke-width="0.75"/>
<line x1="549.88" x2="549.88" y1="150.3" y2="155.0" stroke="#2a2a2a" stroke-width="0.75"/>
<rect x="548.53" y="137.0" width="2.7" height="13.0" fill="rgba(255,255,255,0.42)" stroke="#3a3a3a" stroke-width="0.6"/>
<line x1="553.79" x2="553.79" y1="125.7" y2="129.8" stroke="#2a2a2a" stroke-width="0.75"/>
<line x1="553.79" x2="553.79" y1="136.7" y2="160.0" stroke="#2a2a2a" stroke-width="0.75"/>
<rect x="552.44" y="130.1" width="2.7" height="6.3" fill="rgba(255,255,255,0.42)" stroke="#3a3a3a" stroke-width="0.6"/>
<line x1="557.69" x2="557.69" y1="119.0" y2="120.7" stroke="#2a2a2a" stroke-width="0.75"/>
<line x1="557.69" x2="557.69" y1="129.8" y2="146.7" stroke="#2a2a2a" stroke-width="0.75"/>
<rect x="556.34" y="121.0" width="2.7" height="8.5" fill="rgba(255,255,255,0.42)" stroke="#3a3a3a" stroke-width="0.6"/>
<line x1="561.60" x2="561.60" y1="119.0" y2="157.5" stroke="#2a2a2a" stroke-width="0.75"/>
<rect x="560.05" y="120.7" width="3.1" height="35.6" fill="#0c0c0c"/>
<line x1="565.51" x2="565.51" y1="123.2" y2="128.2" stroke="#2a2a2a" stroke-width="0.75"/>
<line x1="565.51" x2="565.51" y1="156.3" y2="165.0" stroke="#2a2a2a" stroke-width="0.75"/>
<rect x="564.16" y="128.5" width="2.7" height="27.5" fill="rgba(255,255,255,0.42)" stroke="#3a3a3a" stroke-width="0.6"/>
<line x1="569.41" x2="569.41" y1="121.5" y2="160.3" stroke="#2a2a2a" stroke-width="0.75"/>
<rect x="567.87" y="127.3" width="3.1" height="32.4" fill="#0c0c0c"/>
<line x1="573.32" x2="573.32" y1="152.5" y2="199.7" stroke="#2a2a2a" stroke-width="0.75"/>
<rect x="571.77" y="159.2" width="3.1" height="10.0" fill="#0c0c0c"/>
<line x1="577.23" x2="577.23" y1="162.5" y2="189.2" stroke="#2a2a2a" stroke-width="0.75"/>
<rect x="575.68" y="169.2" width="3.1" height="14.1" fill="#0c0c0c"/>
<line x1="581.14" x2="581.14" y1="164.2" y2="178.3" stroke="#2a2a2a" stroke-width="0.75"/>
<line x1="581.14" x2="581.14" y1="183.3" y2="189.2" stroke="#2a2a2a" stroke-width="0.75"/>
<rect x="579.79" y="178.6" width="2.7" height="4.4" fill="rgba(255,255,255,0.42)" stroke="#3a3a3a" stroke-width="0.6"/>
<line x1="585.04" x2="585.04" y1="156.7" y2="160.8" stroke="#2a2a2a" stroke-width="0.75"/>
<line x1="585.04" x2="585.04" y1="178.8" y2="180.8" stroke="#2a2a2a" stroke-width="0.75"/>
<rect x="583.69" y="161.1" width="2.7" height="17.4" fill="rgba(255,255,255,0.42)" stroke="#3a3a3a" stroke-width="0.6"/>
<line x1="588.95" x2="588.95" y1="138.3" y2="139.7" stroke="#2a2a2a" stroke-width="0.75"/>
<line x1="588.95" x2="588.95" y1="160.8" y2="174.2" stroke="#2a2a2a" stroke-width="0.75"/>
<rect x="587.60" y="140.0" width="2.7" height="20.5" fill="rgba(255,255,255,0.42)" stroke="#3a3a3a" stroke-width="0.6"/>
<line x1="592.86" x2="592.86" y1="137.5" y2="162.5" stroke="#2a2a2a" stroke-width="0.75"/>
<rect x="591.31" y="140.0" width="3.1" height="15.3" fill="#0c0c0c"/>
<line x1="596.76" x2="596.76" y1="151.3" y2="178.3" stroke="#2a2a2a" stroke-width="0.75"/>
<rect x="595.21" y="155.3" width="3.1" height="15.2" fill="#0c0c0c"/>
<line x1="600.67" x2="600.67" y1="142.0" y2="145.3" stroke="#2a2a2a" stroke-width="0.75"/>
<line x1="600.67" x2="600.67" y1="170.5" y2="173.3" stroke="#2a2a2a" stroke-width="0.75"/>
<rect x="599.32" y="145.6" width="2.7" height="24.6" fill="rgba(255,255,255,0.42)" stroke="#3a3a3a" stroke-width="0.6"/>
<line x1="604.58" x2="604.58" y1="142.5" y2="193.3" stroke="#2a2a2a" stroke-width="0.75"/>
<rect x="603.03" y="145.3" width="3.1" height="20.2" fill="#0c0c0c"/>
<line x1="608.49" x2="608.49" y1="144.7" y2="150.3" stroke="#2a2a2a" stroke-width="0.75"/>
<line x1="608.49" x2="608.49" y1="165.5" y2="185.0" stroke="#2a2a2a" stroke-width="0.75"/>
<rect x="607.13" y="150.6" width="2.7" height="14.6" fill="rgba(255,255,255,0.42)" stroke="#3a3a3a" stroke-width="0.6"/>
<line x1="612.39" x2="612.39" y1="136.3" y2="173.0" stroke="#2a2a2a" stroke-width="0.75"/>
<rect x="610.84" y="149.7" width="3.1" height="17.0" fill="#0c0c0c"/>
<line x1="616.30" x2="616.30" y1="153.3" y2="180.0" stroke="#2a2a2a" stroke-width="0.75"/>
<rect x="614.75" y="167.5" width="3.1" height="2.5" fill="#0c0c0c"/>
<line x1="620.21" x2="620.21" y1="162.5" y2="180.0" stroke="#2a2a2a" stroke-width="0.75"/>
<rect x="618.66" y="170.0" width="3.1" height="1.7" fill="#0c0c0c"/>
<line x1="624.11" x2="624.11" y1="152.5" y2="180.0" stroke="#2a2a2a" stroke-width="0.75"/>
<rect x="622.56" y="171.3" width="3.1" height="2.5" fill="#0c0c0c"/>
<line x1="628.02" x2="628.02" y1="153.3" y2="154.2" stroke="#2a2a2a" stroke-width="0.75"/>
<line x1="628.02" x2="628.02" y1="173.3" y2="181.3" stroke="#2a2a2a" stroke-width="0.75"/>
<rect x="626.67" y="154.5" width="2.7" height="18.5" fill="rgba(255,255,255,0.42)" stroke="#3a3a3a" stroke-width="0.6"/>
<line x1="631.93" x2="631.93" y1="143.3" y2="168.3" stroke="#2a2a2a" stroke-width="0.75"/>
<rect x="630.38" y="154.2" width="3.1" height="12.8" fill="#0c0c0c"/>
<line x1="635.83" x2="635.83" y1="152.5" y2="265.7" stroke="#2a2a2a" stroke-width="0.75"/>
<rect x="634.28" y="167.0" width="3.1" height="49.6" fill="#0c0c0c"/>
<line x1="639.74" x2="639.74" y1="198.3" y2="203.0" stroke="#2a2a2a" stroke-width="0.75"/>
<line x1="639.74" x2="639.74" y1="216.6" y2="224.9" stroke="#2a2a2a" stroke-width="0.75"/>
<rect x="638.39" y="203.3" width="2.7" height="13.0" fill="rgba(255,255,255,0.42)" stroke="#3a3a3a" stroke-width="0.6"/>
<line x1="643.65" x2="643.65" y1="199.2" y2="229.9" stroke="#2a2a2a" stroke-width="0.75"/>
<rect x="642.10" y="202.5" width="3.1" height="9.9" fill="#0c0c0c"/>
<line x1="647.55" x2="647.55" y1="203.3" y2="221.5" stroke="#2a2a2a" stroke-width="0.75"/>
<rect x="646.00" y="212.4" width="3.1" height="8.4" fill="#0c0c0c"/>
<line x1="651.46" x2="651.46" y1="214.1" y2="249.8" stroke="#2a2a2a" stroke-width="0.75"/>
<rect x="649.91" y="220.8" width="3.1" height="26.2" fill="#0c0c0c"/>
<line x1="655.37" x2="655.37" y1="226.5" y2="228.7" stroke="#2a2a2a" stroke-width="0.75"/>
<line x1="655.37" x2="655.37" y1="247.0" y2="284.8" stroke="#2a2a2a" stroke-width="0.75"/>
<rect x="654.02" y="229.0" width="2.7" height="17.7" fill="rgba(255,255,255,0.42)" stroke="#3a3a3a" stroke-width="0.6"/>
<line x1="659.28" x2="659.28" y1="227.0" y2="263.2" stroke="#2a2a2a" stroke-width="0.75"/>
<rect x="657.73" y="228.2" width="3.1" height="19.6" fill="#0c0c0c"/>
<line x1="663.18" x2="663.18" y1="204.2" y2="214.8" stroke="#2a2a2a" stroke-width="0.75"/>
<line x1="663.18" x2="663.18" y1="247.8" y2="258.2" stroke="#2a2a2a" stroke-width="0.75"/>
<rect x="661.83" y="215.1" width="2.7" height="32.4" fill="rgba(255,255,255,0.42)" stroke="#3a3a3a" stroke-width="0.6"/>
<line x1="667.09" x2="667.09" y1="192.5" y2="204.8" stroke="#2a2a2a" stroke-width="0.75"/>
<line x1="667.09" x2="667.09" y1="214.8" y2="220.7" stroke="#2a2a2a" stroke-width="0.75"/>
<rect x="665.74" y="205.1" width="2.7" height="9.4" fill="rgba(255,255,255,0.42)" stroke="#3a3a3a" stroke-width="0.6"/>
<line x1="671.00" x2="671.00" y1="191.7" y2="244.5" stroke="#2a2a2a" stroke-width="0.75"/>
<rect x="669.45" y="204.5" width="3.1" height="26.0" fill="#0c0c0c"/>
<line x1="674.90" x2="674.90" y1="217.8" y2="223.5" stroke="#2a2a2a" stroke-width="0.75"/>
<line x1="674.90" x2="674.90" y1="230.3" y2="244.0" stroke="#2a2a2a" stroke-width="0.75"/>
<rect x="673.55" y="223.8" width="2.7" height="6.2" fill="rgba(255,255,255,0.42)" stroke="#3a3a3a" stroke-width="0.6"/>
<line x1="678.81" x2="678.81" y1="217.4" y2="235.7" stroke="#2a2a2a" stroke-width="0.75"/>
<rect x="677.26" y="223.1" width="3.1" height="12.2" fill="#0c0c0c"/>
<line x1="682.72" x2="682.72" y1="223.2" y2="225.7" stroke="#2a2a2a" stroke-width="0.75"/>
<line x1="682.72" x2="682.72" y1="235.3" y2="236.0" stroke="#2a2a2a" stroke-width="0.75"/>
<rect x="681.37" y="226.0" width="2.7" height="9.0" fill="rgba(255,255,255,0.42)" stroke="#3a3a3a" stroke-width="0.6"/>
<line x1="686.62" x2="686.62" y1="207.4" y2="216.6" stroke="#2a2a2a" stroke-width="0.75"/>
<line x1="686.62" x2="686.62" y1="225.7" y2="229.0" stroke="#2a2a2a" stroke-width="0.75"/>
<rect x="685.27" y="216.9" width="2.7" height="8.5" fill="rgba(255,255,255,0.42)" stroke="#3a3a3a" stroke-width="0.6"/>
<line x1="690.53" x2="690.53" y1="211.6" y2="230.7" stroke="#2a2a2a" stroke-width="0.75"/>
<rect x="688.98" y="215.7" width="3.1" height="10.3" fill="#0c0c0c"/>
<line x1="694.44" x2="694.44" y1="223.2" y2="254.3" stroke="#2a2a2a" stroke-width="0.75"/>
<rect x="692.89" y="226.0" width="3.1" height="20.5" fill="#0c0c0c"/>
<line x1="698.35" x2="698.35" y1="244.8" y2="270.3" stroke="#2a2a2a" stroke-width="0.75"/>
<rect x="696.80" y="246.7" width="3.1" height="1.0" fill="#0c0c0c"/>
<line x1="702.25" x2="702.25" y1="169.7" y2="181.3" stroke="#2a2a2a" stroke-width="0.75"/>
<line x1="702.25" x2="702.25" y1="245.7" y2="252.7" stroke="#2a2a2a" stroke-width="0.75"/>
<rect x="700.90" y="181.6" width="2.7" height="63.8" fill="rgba(255,255,255,0.42)" stroke="#3a3a3a" stroke-width="0.6"/>
<line x1="706.16" x2="706.16" y1="180.0" y2="221.0" stroke="#2a2a2a" stroke-width="0.75"/>
<rect x="704.61" y="181.3" width="3.1" height="39.1" fill="#0c0c0c"/>
<line x1="710.07" x2="710.07" y1="215.7" y2="252.3" stroke="#2a2a2a" stroke-width="0.75"/>
<rect x="708.52" y="220.4" width="3.1" height="31.1" fill="#0c0c0c"/>
<line x1="713.97" x2="713.97" y1="238.2" y2="275.7" stroke="#2a2a2a" stroke-width="0.75"/>
<rect x="712.42" y="251.2" width="3.1" height="4.8" fill="#0c0c0c"/>
<line x1="717.88" x2="717.88" y1="245.7" y2="253.2" stroke="#2a2a2a" stroke-width="0.75"/>
<line x1="717.88" x2="717.88" y1="256.0" y2="261.5" stroke="#2a2a2a" stroke-width="0.75"/>
<rect x="716.53" y="253.5" width="2.7" height="2.2" fill="rgba(255,255,255,0.42)" stroke="#3a3a3a" stroke-width="0.6"/>
<line x1="721.79" x2="721.79" y1="251.5" y2="267.7" stroke="#2a2a2a" stroke-width="0.75"/>
<rect x="720.24" y="252.3" width="3.1" height="6.4" fill="#0c0c0c"/>
<line x1="725.69" x2="725.69" y1="243.7" y2="249.0" stroke="#2a2a2a" stroke-width="0.75"/>
<line x1="725.69" x2="725.69" y1="259.0" y2="261.0" stroke="#2a2a2a" stroke-width="0.75"/>
<rect x="724.34" y="249.3" width="2.7" height="9.4" fill="rgba(255,255,255,0.42)" stroke="#3a3a3a" stroke-width="0.6"/>
<line x1="729.60" x2="729.60" y1="244.8" y2="246.5" stroke="#2a2a2a" stroke-width="0.75"/>
<line x1="729.60" x2="729.60" y1="249.3" y2="255.7" stroke="#2a2a2a" stroke-width="0.75"/>
<rect x="728.25" y="246.8" width="2.7" height="2.2" fill="rgba(255,255,255,0.42)" stroke="#3a3a3a" stroke-width="0.6"/>
<line x1="733.51" x2="733.51" y1="242.0" y2="260.7" stroke="#2a2a2a" stroke-width="0.75"/>
<rect x="731.96" y="247.0" width="3.1" height="9.2" fill="#0c0c0c"/>
<line x1="737.42" x2="737.42" y1="245.3" y2="248.2" stroke="#2a2a2a" stroke-width="0.75"/>
<line x1="737.42" x2="737.42" y1="256.2" y2="261.5" stroke="#2a2a2a" stroke-width="0.75"/>
<rect x="736.07" y="248.5" width="2.7" height="7.4" fill="rgba(255,255,255,0.42)" stroke="#3a3a3a" stroke-width="0.6"/>
<line x1="741.32" x2="741.32" y1="243.7" y2="256.5" stroke="#2a2a2a" stroke-width="0.75"/>
<rect x="739.77" y="247.3" width="3.1" height="7.5" fill="#0c0c0c"/>
<line x1="745.23" x2="745.23" y1="254.0" y2="272.3" stroke="#2a2a2a" stroke-width="0.75"/>
<rect x="743.68" y="255.3" width="3.1" height="15.0" fill="#0c0c0c"/>
<line x1="749.14" x2="749.14" y1="260.7" y2="261.5" stroke="#2a2a2a" stroke-width="0.75"/>
<line x1="749.14" x2="749.14" y1="270.3" y2="277.3" stroke="#2a2a2a" stroke-width="0.75"/>
<rect x="747.79" y="261.8" width="2.7" height="8.2" fill="rgba(255,255,255,0.42)" stroke="#3a3a3a" stroke-width="0.6"/>
<line x1="753.04" x2="753.04" y1="254.0" y2="269.0" stroke="#2a2a2a" stroke-width="0.75"/>
<rect x="751.49" y="261.2" width="3.1" height="2.5" fill="#0c0c0c"/>
<line x1="756.95" x2="756.95" y1="259.0" y2="264.0" stroke="#2a2a2a" stroke-width="0.75"/>
<rect x="755.40" y="261.8" width="3.1" height="1.0" fill="#0c0c0c"/>
<line x1="760.86" x2="760.86" y1="262.3" y2="274.8" stroke="#2a2a2a" stroke-width="0.75"/>
<rect x="759.31" y="262.7" width="3.1" height="11.3" fill="#0c0c0c"/>
<line x1="764.76" x2="764.76" y1="261.0" y2="272.0" stroke="#2a2a2a" stroke-width="0.75"/>
<line x1="764.76" x2="764.76" y1="273.2" y2="281.0" stroke="#2a2a2a" stroke-width="0.75"/>
<rect x="763.41" y="272.3" width="2.7" height="0.6" fill="rgba(255,255,255,0.42)" stroke="#3a3a3a" stroke-width="0.6"/>
<line x1="768.67" x2="768.67" y1="262.3" y2="264.0" stroke="#2a2a2a" stroke-width="0.75"/>
<line x1="768.67" x2="768.67" y1="272.7" y2="274.0" stroke="#2a2a2a" stroke-width="0.75"/>
<rect x="767.32" y="264.3" width="2.7" height="8.1" fill="rgba(255,255,255,0.42)" stroke="#3a3a3a" stroke-width="0.6"/>
<line x1="772.58" x2="772.58" y1="260.7" y2="261.5" stroke="#2a2a2a" stroke-width="0.75"/>
<line x1="772.58" x2="772.58" y1="264.0" y2="268.7" stroke="#2a2a2a" stroke-width="0.75"/>
<rect x="771.23" y="261.8" width="2.7" height="1.9" fill="rgba(255,255,255,0.42)" stroke="#3a3a3a" stroke-width="0.6"/>
</g>
<text x="358.7" y="363.2" font-size="5.4" fill="#70695a" text-anchor="middle" textLength="9.9" lengthAdjust="spacingAndGlyphs">FVG</text>
<text x="749.5" y="185.8" font-size="5.4" fill="#70695a" text-anchor="middle" textLength="9.9" lengthAdjust="spacingAndGlyphs">FVG</text>
<circle cx="764.3" cy="183.8" r="5.8" fill="#13996f" stroke="#eef6f3" stroke-width="0.5"/>
<path d="M761.1 184.3 L763.6 186.4 L767.6 182.2" fill="none" stroke="#fff" stroke-width="1.6" stroke-linecap="round" stroke-linejoin="round"/>
<path d="M837.9 32.3 H883.3 Q884.9 32.3 884.9 33.9 V42.699999999999996 Q884.9 44.3 883.3 44.3 H842.5 L830.9 52.5 L838.6999999999999 44.3 H837.9 Q836.3 44.3 836.3 42.699999999999996 V33.9 Q836.3 32.3 837.9 32.3 Z" fill="rgba(255,255,255,0.15)" stroke="#707070" stroke-width="0.95" stroke-linejoin="round"/>
<circle cx="830.9" cy="52.5" r="0.85" fill="#444"/>
<text x="860.2" y="40.5" font-size="6.7" font-weight="bold" fill="#1e1e1e" text-anchor="middle" textLength="35.8" lengthAdjust="spacingAndGlyphs">0.00004695</text>
<path d="M837.9 71.3 H883.3 Q884.9 71.3 884.9 72.89999999999999 V81.7 Q884.9 83.3 883.3 83.3 H842.5 L830.9 92.3 L838.6999999999999 83.3 H837.9 Q836.3 83.3 836.3 81.7 V72.89999999999999 Q836.3 71.3 837.9 71.3 Z" fill="rgba(255,255,255,0.15)" stroke="#707070" stroke-width="0.95" stroke-linejoin="round"/>
<circle cx="830.9" cy="92.3" r="0.85" fill="#444"/>
<text x="860.2" y="79.5" font-size="6.7" font-weight="bold" fill="#1e1e1e" text-anchor="middle" textLength="35.8" lengthAdjust="spacingAndGlyphs">0.00004264</text>
<path d="M837.9 262.2 H883.3 Q884.9 262.2 884.9 263.8 V272.7 Q884.9 274.3 883.3 274.3 H842.5 L830.9 282.1 L838.6999999999999 274.3 H837.9 Q836.3 274.3 836.3 272.7 V263.8 Q836.3 262.2 837.9 262.2 Z" fill="rgba(255,255,255,0.15)" stroke="#707070" stroke-width="0.95" stroke-linejoin="round"/>
<circle cx="830.9" cy="282.1" r="0.85" fill="#444"/>
<text x="860.2" y="270.4" font-size="6.7" font-weight="bold" fill="#1e1e1e" text-anchor="middle" textLength="35.8" lengthAdjust="spacingAndGlyphs">0.00002677</text>
<path d="M837.9 301.3 H883.3 Q884.9 301.3 884.9 302.90000000000003 V311.7 Q884.9 313.3 883.3 313.3 H842.5 L830.9 321.2 L838.6999999999999 313.3 H837.9 Q836.3 313.3 836.3 311.7 V302.90000000000003 Q836.3 301.3 837.9 301.3 Z" fill="rgba(255,255,255,0.15)" stroke="#707070" stroke-width="0.95" stroke-linejoin="round"/>
<circle cx="830.9" cy="321.2" r="0.85" fill="#444"/>
<text x="860.2" y="309.5" font-size="6.7" font-weight="bold" fill="#1e1e1e" text-anchor="middle" textLength="35.8" lengthAdjust="spacingAndGlyphs">0.00002431</text>
<path d="M837.9 364.4 H883.3 Q884.9 364.4 884.9 366.0 V374.29999999999995 Q884.9 375.9 883.3 375.9 H842.5 L830.9 384.5 L838.6999999999999 375.9 H837.9 Q836.3 375.9 836.3 374.29999999999995 V366.0 Q836.3 364.4 837.9 364.4 Z" fill="rgba(255,255,255,0.15)" stroke="#707070" stroke-width="0.95" stroke-linejoin="round"/>
<circle cx="830.9" cy="384.5" r="0.85" fill="#444"/>
<text x="860.2" y="372.3" font-size="6.7" font-weight="bold" fill="#1e1e1e" text-anchor="middle" textLength="35.8" lengthAdjust="spacingAndGlyphs">0.00002082</text>
<path d="M837.9 384.3 H883.3 Q884.9 384.3 884.9 385.90000000000003 V394.59999999999997 Q884.9 396.2 883.3 396.2 H842.5 L830.9 404.5 L838.6999999999999 396.2 H837.9 Q836.3 396.2 836.3 394.59999999999997 V385.90000000000003 Q836.3 384.3 837.9 384.3 Z" fill="rgba(255,255,255,0.15)" stroke="#707070" stroke-width="0.95" stroke-linejoin="round"/>
<circle cx="830.9" cy="404.5" r="0.85" fill="#444"/>
<text x="860.2" y="392.4" font-size="6.7" font-weight="bold" fill="#1e1e1e" text-anchor="middle" textLength="35.8" lengthAdjust="spacingAndGlyphs">0.00001982</text>
<rect x="943" y="0" width="41" height="12.5" fill="#ffffff"/>
<line x1="942.5" x2="942.5" y1="0" y2="554" stroke="#6c6c6c" stroke-width="0.9"/>
<line x1="0" x2="984" y1="540.5" y2="540.5" stroke="#666" stroke-width="0.9"/>
<text x="949.8" y="8.1" font-size="6.3" fill="#3a3a3a">USDT</text>
<text x="947" y="46.0" font-size="6.7" fill="#3a3a3a">0.00004800</text>
<text x="947" y="63.4" font-size="6.7" fill="#3a3a3a">0.00004600</text>
<text x="947" y="81.6" font-size="6.7" fill="#3a3a3a">0.00004400</text>
<text x="947" y="100.6" font-size="6.7" fill="#3a3a3a">0.00004200</text>
<text x="947" y="120.5" font-size="6.7" fill="#3a3a3a">0.00004000</text>
<text x="947" y="163.6" font-size="6.7" fill="#3a3a3a">0.00003600</text>
<text x="947" y="187.0" font-size="6.7" fill="#3a3a3a">0.00003400</text>
<text x="947" y="211.8" font-size="6.7" fill="#3a3a3a">0.00003200</text>
<text x="947" y="238.1" font-size="6.7" fill="#3a3a3a">0.00003000</text>
<text x="947" y="259.1" font-size="6.7" fill="#3a3a3a">0.00002850</text>
<text x="947" y="281.2" font-size="6.7" fill="#3a3a3a">0.00002700</text>
<text x="947" y="304.6" font-size="6.7" fill="#3a3a3a">0.00002550</text>
<text x="947" y="329.4" font-size="6.7" fill="#3a3a3a">0.00002400</text>
<text x="947" y="346.8" font-size="6.7" fill="#3a3a3a">0.00002300</text>
<text x="947" y="364.9" font-size="6.7" fill="#3a3a3a">0.00002200</text>
<text x="947" y="383.9" font-size="6.7" fill="#3a3a3a">0.00002100</text>
<text x="947" y="403.9" font-size="6.7" fill="#3a3a3a">0.00002000</text>
<text x="947" y="424.9" font-size="6.7" fill="#3a3a3a">0.00001900</text>
<text x="947" y="442.4" font-size="6.7" fill="#3a3a3a">0.00001820</text>
<text x="947" y="460.8" font-size="6.7" fill="#3a3a3a">0.00001740</text>
<text x="947" y="480.1" font-size="6.7" fill="#3a3a3a">0.00001660</text>
<text x="947" y="496.8" font-size="6.7" fill="#3a3a3a">0.00001590</text>
<text x="947" y="533.9" font-size="6.7" fill="#3a3a3a">0.00001455</text>
<rect x="923" y="44.6" width="61" height="9.9" fill="#e1edfb"/>
<text x="926.3" y="52.0" font-size="6.7" fill="#34425c">High</text>
<text x="947" y="52.0" font-size="6.7" fill="#34425c">0.00004729</text>
<rect x="943" y="134.1" width="41" height="9.7" fill="#f23645"/>
<text x="947" y="141.4" font-size="6.7" fill="#fff">0.00003801</text>
<rect x="943" y="257.3" width="41" height="16.8" fill="#000"/>
<text x="947" y="264.5" font-size="6.7" fill="#fff">0.00002814</text>
<text x="947" y="272.4" font-size="6.7" fill="#fff">09:22:45</text>
<rect x="943" y="281.2" width="41" height="9.4" fill="#f23645"/>
<text x="947" y="288.4" font-size="6.7" fill="#fff">0.00002652</text>
<rect x="943" y="385.3" width="41" height="9.4" fill="#f63b2e"/>
<text x="947" y="392.5" font-size="6.7" fill="#fff">0.00002055</text>
<rect x="943" y="483.1" width="41" height="9.0" fill="#f23645"/>
<text x="947" y="490.1" font-size="6.7" fill="#fff">0.00001618</text>
<rect x="925" y="506.7" width="59" height="9.9" fill="#e1edfb"/>
<text x="927.4" y="514.2" font-size="6.7" fill="#34425c">Low</text>
<text x="947" y="514.2" font-size="6.7" fill="#34425c">0.00001526</text>
<text x="30" y="550.9" font-size="6.3" fill="#3a3a3a" text-anchor="middle">Aug</text>
<text x="80.7" y="550.9" font-size="6.3" fill="#3a3a3a" text-anchor="middle">14</text>
<text x="150.7" y="550.9" font-size="6.3" fill="#3a3a3a" text-anchor="middle">Sep</text>
<text x="217.3" y="550.9" font-size="6.3" fill="#3a3a3a" text-anchor="middle">18</text>
<text x="268.3" y="550.9" font-size="6.3" fill="#3a3a3a" text-anchor="middle">Oct</text>
<text x="327.3" y="550.9" font-size="6.3" fill="#3a3a3a" text-anchor="middle">16</text>
<text x="389.3" y="550.9" font-size="6.3" fill="#3a3a3a" text-anchor="middle">Nov</text>
<text x="436" y="550.9" font-size="6.3" fill="#3a3a3a" text-anchor="middle">13</text>
<text x="506.7" y="550.9" font-size="6.3" fill="#3a3a3a" text-anchor="middle">Dec</text>
<text x="573.3" y="550.9" font-size="6.3" fill="#3a3a3a" text-anchor="middle">18</text>
<text x="628.1" y="550.9" font-size="6.3" fill="#222" text-anchor="middle" font-weight="bold">2024</text>
<text x="682" y="550.9" font-size="6.3" fill="#3a3a3a" text-anchor="middle">15</text>
<text x="749" y="550.9" font-size="6.3" fill="#3a3a3a" text-anchor="middle">Feb</text>
<text x="796" y="550.9" font-size="6.3" fill="#3a3a3a" text-anchor="middle">13</text>
<text x="862.2" y="550.9" font-size="6.3" fill="#777" text-anchor="middle">Mar</text>
<text x="928.6" y="550.9" font-size="6.3" fill="#3a3a3a" text-anchor="middle">18</text>
<circle cx="772.9" cy="532.8" r="5.7" fill="#f0f0f0" stroke="#c43fd6" stroke-width="1.1"/>
<path d="M774.3 528.9 L770.5 533.4 L772.7 533.4 L771.6 536.7 L775.4 532.1 L773.2 532.1 Z" fill="#c43fd6"/>
<text x="1.8" y="8" font-size="6.5" fill="#333" textLength="89.6" lengthAdjust="spacingAndGlyphs">Floki Inu/Tether, 1D, GATEIO</text>
<text x="96" y="8" font-size="6.5" fill="#333">O0.00002798</text>
<text x="140.5" y="8" font-size="6.5" fill="#333">H0.00002823</text>
<text x="185" y="8" font-size="6.5" fill="#333">L0.00002762</text>
<text x="228.4" y="8" font-size="6.5" fill="#333">C0.00002814</text>
<text x="272.1" y="8" font-size="6.5" fill="#333">+0.00000018 (+0.64%)</text>
</svg>
</body></html>
